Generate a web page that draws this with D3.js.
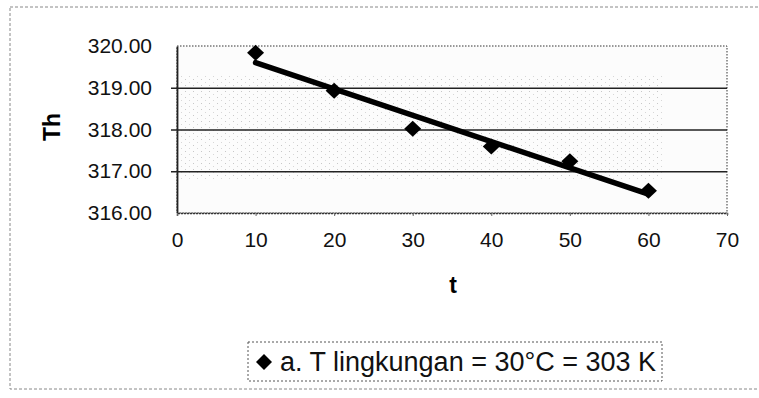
<!DOCTYPE html>
<html>
<head>
<meta charset="utf-8">
<script src="https://cdn.jsdelivr.net/npm/d3@7"></script>
<style>
  body { margin: 0; background: #fff; }
  svg { display: block; font-family: "Liberation Sans", Arial, sans-serif; }
</style>
</head>
<body>
<script>
// data
var tValues = [10, 20, 30, 40, 50, 60];
var thValues = [319.84, 318.93, 318.02, 317.59, 317.24, 316.53];
var xTicks = [0, 10, 20, 30, 40, 50, 60, 70];
var yTicks = [316, 317, 318, 319, 320];
var gridValues = [317, 318, 319];
var legendLabel = "a. T lingkungan = 30°C = 303 K";

var w = 759, h = 398;
var plotL = 177, plotR = 727, plotT = 46, plotB = 213;

var svg = d3.select("body")
  .append("svg")
  .attr("width", w)
  .attr("height", h);

var xScale = d3.scaleLinear().domain([0, 70]).range([plotL, plotR]);
var yScale = d3.scaleLinear().domain([316, 320]).range([plotB, plotT]);

// stipple pattern to mimic the scanned grey plot area
var defs = svg.append("defs");
var pat = defs.append("pattern")
  .attr("id", "stipple")
  .attr("width", 8).attr("height", 6)
  .attr("patternUnits", "userSpaceOnUse");
pat.append("rect").attr("x", 1).attr("y", 1).attr("width", 1).attr("height", 1).attr("fill", "#888");
pat.append("rect").attr("x", 5).attr("y", 4).attr("width", 1).attr("height", 1).attr("fill", "#aaa");

// outer chart border (faint, dashed)
svg.append("rect")
  .attr("x", 10).attr("y", 7)
  .attr("width", 770).attr("height", 382)
  .attr("fill", "none")
  .attr("stroke", "#888")
  .attr("stroke-width", 1)
  .attr("stroke-dasharray", "3,2");

// plot area
svg.append("rect")
  .attr("x", plotL).attr("y", plotT)
  .attr("width", plotR - plotL).attr("height", plotB - plotT)
  .attr("fill", "#fcfcfc")
  .attr("stroke", "#333")
  .attr("stroke-dasharray", "1.5,1.5");

svg.append("rect")
  .attr("x", plotL).attr("y", yScale(319.3))
  .attr("width", xScale(62) - plotL).attr("height", yScale(316.8) - yScale(319.3))
  .attr("fill", "url(#stipple)")
  .attr("opacity", 0.45);

// gridlines (with short outward ticks on the left)
svg.append("g")
  .attr("transform", "translate(" + (plotL - 6) + ",0)")
  .call(d3.axisLeft(yScale).tickValues(gridValues).tickSize(-(plotR - plotL) - 6).tickFormat(""))
  .call(function(g) {
    g.select(".domain").remove();
    g.selectAll(".tick line").attr("stroke", "#222").attr("stroke-width", 1.6);
  });

// y axis
svg.append("g")
  .attr("transform", "translate(" + plotL + ",0)")
  .call(d3.axisLeft(yScale).tickValues(yTicks).tickSize(0).tickPadding(25).tickFormat(d3.format(".2f")))
  .call(function(g) {
    g.select(".domain").attr("stroke", "#222").attr("stroke-width", 1.8);
    g.selectAll("text").attr("font-size", 21).attr("fill", "#111")
      .attr("font-family", "'Liberation Sans', Arial, sans-serif");
  });

// x axis
svg.append("g")
  .attr("transform", "translate(0," + plotB + ")")
  .call(d3.axisBottom(xScale).tickValues(xTicks).tickSize(3).tickPadding(16))
  .call(function(g) {
    g.select(".domain").attr("stroke", "#333").attr("stroke-width", 1.5).attr("stroke-dasharray", "2,1");
    g.selectAll(".tick line").attr("stroke", "#666");
    g.selectAll("text").attr("font-size", 21).attr("fill", "#111")
      .attr("font-family", "'Liberation Sans', Arial, sans-serif");
  });

// linear trendline (least squares through the points)
var mx = d3.mean(tValues), my = d3.mean(thValues);
var slope = d3.sum(tValues, function(t, i) { return (t - mx) * (thValues[i] - my); }) /
  d3.sum(tValues, function(t) { return (t - mx) * (t - mx); });
var trend = function(t) { return my + slope * (t - mx); };
var tMin = d3.min(tValues), tMax = d3.max(tValues);

svg.append("line")
  .attr("x1", xScale(tMin)).attr("y1", yScale(trend(tMin)))
  .attr("x2", xScale(tMax)).attr("y2", yScale(trend(tMax)))
  .attr("stroke", "#000")
  .attr("stroke-width", 5.5)
  .attr("stroke-linecap", "round");

// diamond markers
var diamond = "M0,-8L8.5,0L0,8L-8.5,0Z";
svg.selectAll("path.pt")
  .data(tValues)
  .enter()
  .append("path")
  .attr("class", "pt")
  .attr("d", diamond)
  .attr("fill", "#000")
  .attr("transform", function(d, i) {
    return "translate(" + xScale(d) + "," + yScale(thValues[i]) + ")";
  });

// axis titles
svg.append("text")
  .attr("transform", "translate(60,127) rotate(-90)")
  .attr("text-anchor", "middle")
  .attr("font-size", 23)
  .attr("font-weight", "bold")
  .text("Th");

svg.append("text")
  .attr("x", 453).attr("y", 293)
  .attr("text-anchor", "middle")
  .attr("font-size", 23)
  .attr("font-weight", "bold")
  .text("t");

// legend
var lg = svg.append("g");
lg.append("rect")
  .attr("x", 248).attr("y", 342)
  .attr("width", 414).attr("height", 39)
  .attr("fill", "#fff")
  .attr("stroke", "#555")
  .attr("stroke-dasharray", "2,2");
lg.append("path")
  .attr("d", "M0,-8L8,0L0,8L-8,0Z")
  .attr("fill", "#000")
  .attr("transform", "translate(264,362)");
lg.append("text")
  .attr("x", 280).attr("y", 371)
  .attr("font-size", 27)
  .attr("fill", "#111")
  .text(legendLabel);
</script>
</body>
</html>
